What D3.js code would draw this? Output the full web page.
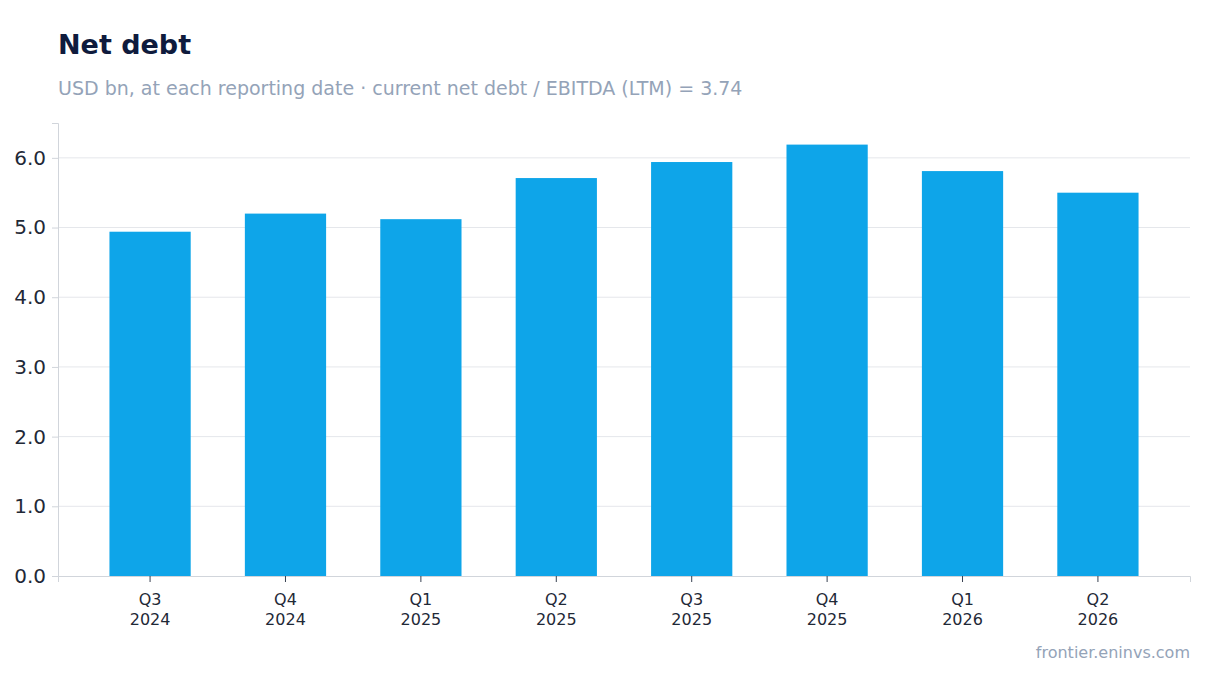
<!DOCTYPE html>
<html><head><meta charset="utf-8">
<script src="https://cdn.jsdelivr.net/npm/d3@7"></script>
<style>body{margin:0;background:#fff;font-family:"DejaVu Sans",sans-serif}</style>
</head><body><svg id="c" width="1220" height="693"></svg>
<script>
const quarters=["Q3","Q4","Q1","Q2","Q3","Q4","Q1","Q2"];
const years=["2024","2024","2025","2025","2025","2025","2026","2026"];
const values=[4.94,5.20,5.12,5.71,5.94,6.19,5.81,5.50];
const yTicks=[0,1,2,3,4,5,6];
const svg=d3.select("#c");
const L=58,R=1190,T=123,B=576;
const cats=quarters.map((q,i)=>q+" "+years[i]+"#"+i);
const x=d3.scaleBand().domain(cats).range([L,R]).paddingInner(0.4).paddingOuter(0.38);
const y=d3.scaleLinear().domain([0,6.5]).range([B,T]);
svg.append("text").attr("x",58).attr("y",54).attr("font-size",27).attr("font-weight","bold").attr("fill","#0f1b3d").text("Net debt");
svg.append("text").attr("x",58).attr("y",95).attr("font-size",19).attr("fill","#94a3b8").text("USD bn, at each reporting date · current net debt / EBITDA (LTM) = 3.74");
svg.append("g").selectAll("line").data(yTicks.slice(1)).join("line").attr("x1",L).attr("x2",R).attr("y1",d=>y(d)).attr("y2",d=>y(d)).attr("stroke","#e5e7eb");
svg.append("g").selectAll("rect").data(values).join("rect").attr("x",(d,i)=>x(cats[i])).attr("width",x.bandwidth()).attr("y",d=>y(d)).attr("height",d=>B-y(d)).attr("fill","#0ea5e9");
const ya=svg.append("g").attr("transform",`translate(${L},0)`).call(d3.axisLeft(y).tickValues(yTicks).tickSize(6).tickPadding(6));
ya.selectAll("text").attr("font-size",20).attr("fill","#1f2937").attr("font-family","DejaVu Sans");
ya.selectAll("line,path").attr("stroke","#d1d5db");
const xa=svg.append("g").attr("transform",`translate(0,${B})`).call(d3.axisBottom(x).tickSize(6).tickFormat(""));
xa.selectAll("line,path").attr("stroke","#d1d5db");
xa.selectAll("line").attr("stroke","#374151");
xa.selectAll(".tick").each(function(d,i){
  const t=d3.select(this).append("text").attr("fill","#1f2937").attr("font-size",16).attr("text-anchor","middle").attr("font-family","DejaVu Sans");
  t.append("tspan").attr("x",0).attr("y",29).text(quarters[i]);
  t.append("tspan").attr("x",0).attr("y",49).text(years[i]);
});
svg.append("text").attr("x",1190).attr("y",658).attr("text-anchor","end").attr("font-size",16).attr("fill","#94a3b8").text("frontier.eninvs.com");
</script></body></html>
